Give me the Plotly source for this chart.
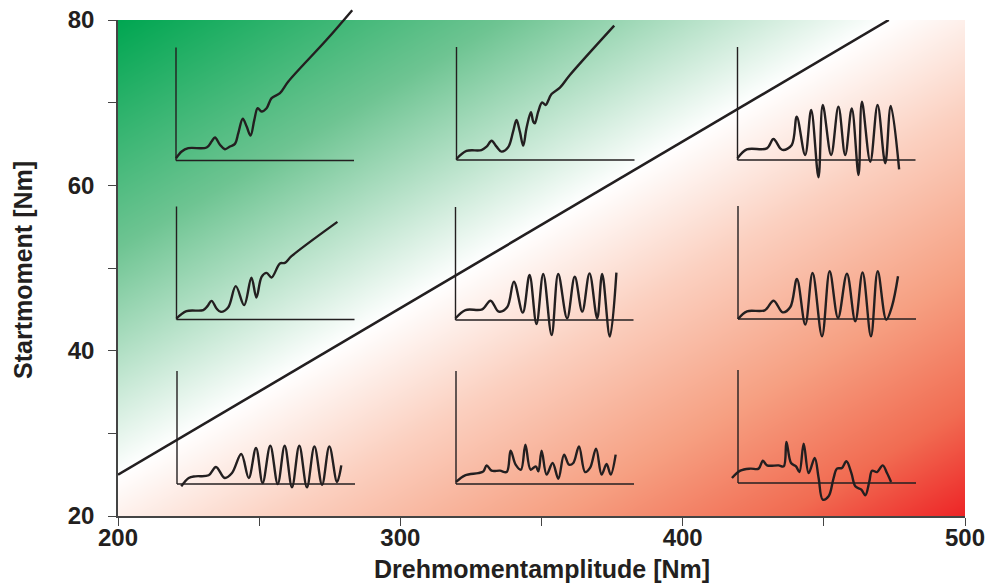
import numpy as np
import plotly.graph_objects as go

# ---------------- data ----------------
x_ticks = [200, 300, 400, 500]
x_minor = [250, 350, 450]
y_ticks = [20, 40, 60, 80]
y_minor = [30, 50, 70]

# separating line (stable / unstable start)
boundary_x = [200, 473]
boundary_y = [25, 80]

# inset curves (inset units: horizontal axis 0..100, vertical axis 0..100)
curve_a_x = [0, 3.2, 6.9, 17.2, 20, 21.9, 24.7, 27.5, 30.3, 33.1, 35, 37.5, 39.7, 41.9, 44, 45.9, 48.1, 50.9, 53.7, 58.4, 63.1, 84.6, 99]
curve_a_y = [2, 8, 10.9, 11.5, 16.8, 20.4, 13.9, 10, 12.4, 14.7, 24.2, 36.9, 30, 22.1, 36, 46.3, 43.4, 46.3, 55.2, 59.6, 69.9, 106.8, 133]

curve_b_x = [0, 5.6, 14, 16.9, 19.7, 22.5, 25.3, 29, 31.8, 33.7, 35.6, 37.5, 39.3, 41.8, 43.1, 44, 45.9, 48.1, 50, 53.4, 58.1, 63.7, 88.6]
curve_b_y = [0.9, 8, 8.8, 11.8, 17.1, 11.8, 7.4, 11.2, 25.1, 35.4, 25.1, 12.7, 28, 42.2, 33.9, 32.4, 42.8, 51, 48.7, 58.4, 64, 75.2, 118.9]

curve_c_x = [0, 5.2, 16.5, 20.2, 24, 25.8, 30.5, 33.3, 38, 41.4, 45.5, 47.9, 52.6, 56.7, 60.5, 64.2, 68, 69.9, 74.6, 78.7, 83, 86.1, 90.8]
curve_c_y = [1.5, 9.4, 10.3, 18.6, 10.3, 8.8, 13.3, 38.3, 4.4, 44.2, -15.3, 48.7, 4.4, 47.2, 4.4, 45.7, -13.3, 51.6, -1.5, 48.7, -2.9, 47.8, -8.3]

curve_d_x = [0, 5.6, 15, 17.4, 19.7, 22.5, 24.9, 29, 33.3, 38, 42.1, 44.9, 47.8, 50.6, 53.4, 58.1, 60.9, 64.6, 90.4]
curve_d_y = [0.9, 7.4, 8.3, 11.8, 16.5, 9.7, 6.8, 10.6, 29.5, 12.7, 36.9, 19.5, 37.8, 41.3, 37.2, 49.6, 50.1, 56, 86.4]

curve_e_x = [0, 5.6, 15, 19.7, 24.3, 29, 32.8, 37.8, 41.6, 45.5, 49.3, 54, 57.7, 62.7, 67, 71.2, 75.3, 79.6, 82.4, 86.7, 90.4]
curve_e_y = [1.5, 8.8, 9.4, 17.1, 7.4, 11.2, 33.9, 6.5, 39.8, -3.5, 40.7, -13.3, 40.7, 1.5, 38.3, 7.4, 41.3, 1.5, 40.7, -14.7, 41.9]

curve_f_x = [0, 5.1, 15, 20, 25.1, 29.4, 33.1, 37.8, 41.9, 47.2, 51.5, 56.2, 61.2, 65.9, 70, 74.7, 78.5, 83.3, 86.5, 89.9]
curve_f_y = [0, 6.8, 7.7, 16.2, 5.9, 10.6, 35.4, -5, 40.7, -15.3, 42.2, 0.9, 40.1, -2.1, 41.3, -15.3, 42.2, -0.6, 11.2, 37.8]

curve_g_x = [2.4, 6.6, 10.3, 17.8, 21.9, 26.8, 30.9, 36.1, 40.3, 44.4, 48.1, 52.4, 56.6, 60.5, 64.6, 68.7, 73, 77.2, 81.5, 85.6, 89.9, 92.3]
curve_g_y = [-2.1, 5.3, 6.8, 7.7, 15, 5.3, 9.7, 26.5, 5.3, 31.9, 0.9, 33.9, 0, 33.9, -2.9, 33.9, -2.9, 33.3, -0.6, 33.3, 1.8, 16.5]

curve_h_x = [0, 5.1, 12.5, 15.4, 17.2, 20, 24.7, 28.5, 30.7, 33.5, 36.5, 39, 41.9, 44.8, 46.3, 48.1, 50.9, 54.3, 57.5, 60.7, 63.5, 65.9, 69.1, 72.5, 75.3, 78.7, 81.8, 84.6, 86.9, 89.7]
curve_h_y = [1.8, 7.7, 9.7, 11.2, 16.5, 11.8, 11.8, 10.6, 29.5, 17.1, 12.7, 34.8, 12.7, 15.6, 11.2, 29.5, 8.3, 18.6, 4.7, 26, 17.1, 18.6, 33.3, 10.6, 14.2, 31.3, 8.3, 17.7, 8.3, 26]

curve_i_x = [-3.4, 1.3, 6.9, 11.6, 14, 16.3, 22.8, 25.7, 27.2, 29.8, 32.6, 34.5, 36.9, 39.7, 43.1, 45.3, 47.6, 50.9, 53.7, 55.6, 58.4, 60.9, 63.7, 65.9, 69.3, 71.5, 73.8, 75.3, 78.1, 81.3, 83.7, 86]
curve_i_y = [4.4, 10.9, 12.7, 12.7, 19.8, 15.6, 15.6, 14.7, 36.3, 17.7, 14.7, 9.7, 34.8, 8.8, 22.1, 4.4, -14.7, -11.8, 4.4, 12.7, 13.3, 19.2, 8.8, -2.9, -5.9, -10.9, 1.5, 10.9, 9.7, 15.6, 8.8, 0.9]

curves = [
    (curve_a_x, curve_a_y), (curve_b_x, curve_b_y), (curve_c_x, curve_c_y),
    (curve_d_x, curve_d_y), (curve_e_x, curve_e_y), (curve_f_x, curve_f_y),
    (curve_g_x, curve_g_y), (curve_h_x, curve_h_y), (curve_i_x, curve_i_y),
]

# ---------------- layout geometry (window pixels; body margin removed) ----------------
W, H = 988, 587
PX_L, PX_R = 118, 965
PX_TOP_MAIN, PX_BOT = 20, 516
ML, MR, MT, MB = PX_L, W - PX_R, 0, H - PX_BOT
PAPER_W = PX_R - PX_L
PAPER_H = PX_BOT - MT

# inset anchor pixel positions (origin of each inset's axes)
inset_anchor = [(176, 160.5), (456.5, 160), (737.5, 160),
                (176.5, 319.5), (455.5, 320), (738, 319),
                (177, 484), (456, 484), (738, 483)]
SX, SY = 1.78, 1.13   # px per inset unit
IX_RANGE = [-6, 102]
IY_RANGE = [-20, 135]

TEXT = '#231f20'
FONT = 'Liberation Sans, Arial, sans-serif'

fig = go.Figure()

# ---------------- background gradient ----------------
gx = np.linspace(200, 500, 151)
gy = np.linspace(20, 80, 91)
kx = PAPER_W / 300.0
ky = (PX_BOT - PX_TOP_MAIN) / 60.0
dxp = (boundary_x[1] - boundary_x[0]) * kx
dyp = (boundary_y[1] - boundary_y[0]) * ky
nrm = np.hypot(dxp, dyp)
GX, GY = np.meshgrid(gx, gy)
Z = ((GX - boundary_x[0]) * kx * dyp - (GY - boundary_y[0]) * ky * dxp) / nrm
zmin, zmax = Z.min(), Z.max()
wpos = -zmin / (zmax - zmin)
rs = 1 - wpos
fig.add_trace(go.Heatmap(
    x=gx, y=gy, z=Z, zmin=zmin, zmax=zmax, zsmooth='best', showscale=False,
    hoverinfo='skip',
    colorscale=[[0, 'rgb(0,166,81)'],
                [wpos * 0.5, 'rgb(110,196,146)'],
                [wpos, 'rgb(255,255,255)'],
                [wpos + rs * 0.25, 'rgb(251,208,192)'],
                [wpos + rs * 0.55, 'rgb(246,160,130)'],
                [wpos + rs * 0.8, 'rgb(241,108,82)'],
                [1, 'rgb(237,36,38)']],
))

fig.add_trace(go.Scatter(x=boundary_x, y=boundary_y, mode='lines',
                         line=dict(color=TEXT, width=2.6), hoverinfo='skip', showlegend=False))

# ---------------- insets ----------------
shapes = []
for i, ((cx, cy), (ax0, by0)) in enumerate(zip(curves, inset_anchor)):
    k = i + 2
    xd = [(ax0 + IX_RANGE[0] * SX - PX_L) / PAPER_W, (ax0 + IX_RANGE[1] * SX - PX_L) / PAPER_W]
    yd = [(PX_BOT - (by0 - IY_RANGE[0] * SY)) / PAPER_H,
          min(1.0, (PX_BOT - (by0 - IY_RANGE[1] * SY)) / PAPER_H)]
    yr = [IY_RANGE[0], IY_RANGE[0] + (yd[1] - yd[0]) * PAPER_H / SY]
    fig.add_trace(go.Scatter(x=cx, y=cy, mode='lines', xaxis=f'x{k}', yaxis=f'y{k}',
                             line=dict(color=TEXT, width=2.4, shape='spline', smoothing=1.0),
                             hoverinfo='skip', showlegend=False))
    fig.layout[f'xaxis{k}'] = dict(domain=xd, range=IX_RANGE, visible=False, anchor=f'y{k}')
    fig.layout[f'yaxis{k}'] = dict(domain=yd, range=yr, visible=False, anchor=f'x{k}')
    shapes.append(dict(type='line', xref=f'x{k}', yref=f'y{k}', x0=0, y0=0, x1=0, y1=100,
                       line=dict(color=TEXT, width=1.4)))
    shapes.append(dict(type='line', xref=f'x{k}', yref=f'y{k}', x0=0, y0=0, x1=100, y1=0,
                       line=dict(color=TEXT, width=1.4)))

tickfont = dict(size=24, weight='bold', family=FONT, color=TEXT)
titlefont = dict(size=25, weight='bold', family=FONT, color=TEXT)

annotations = [
    dict(text='Drehmomentamplitude [Nm]', xref='paper', yref='paper', showarrow=False,
         x=0.5, y=(PX_BOT - 569) / PAPER_H,
         xanchor='center', yanchor='middle', font=titlefont),
    dict(text='Startmoment [Nm]', xref='paper', yref='paper', showarrow=False, textangle=-90,
         x=(23 - PX_L) / PAPER_W, y=(PX_BOT - 270) / PAPER_H,
         xanchor='center', yanchor='middle', font=titlefont),
]

fig.update_layout(
    width=W, height=H,
    margin=dict(l=ML, r=MR, t=MT, b=MB, autoexpand=False),
    paper_bgcolor='white', plot_bgcolor='rgba(0,0,0,0)',
    showlegend=False,
    shapes=shapes,
    annotations=annotations,
    font=dict(family=FONT, color=TEXT),
    xaxis=dict(range=[200, 500], domain=[0, 1], tickvals=x_ticks, ticks='outside', ticklen=8,
               tickwidth=1.2, tickcolor='#444', showline=True, linecolor='#444', linewidth=1.5,
               showgrid=False, zeroline=False, automargin=False, ticklabelstandoff=-9,
               ticklabeloverflow='allow',
               minor=dict(tickvals=x_minor, ticks='outside', ticklen=8, tickcolor='#444', tickwidth=1.2),
               tickfont=tickfont),
    yaxis=dict(range=[20, 80], domain=[0, (PX_BOT - PX_TOP_MAIN) / PAPER_H], tickvals=y_ticks,
               ticks='outside', ticklen=8, tickwidth=1.2, tickcolor='#444',
               showline=True, linecolor='#444', linewidth=1.5, showgrid=False, zeroline=False,
               automargin=False, ticklabelstandoff=9, ticklabeloverflow='allow',
               minor=dict(tickvals=y_minor, ticks='outside', ticklen=8, tickcolor='#444', tickwidth=1.2),
               tickfont=tickfont),
)

fig.write_html('out.html', config={'displayModeBar': False},
               post_script="document.body.style.margin='0';document.body.style.overflow='hidden';")
